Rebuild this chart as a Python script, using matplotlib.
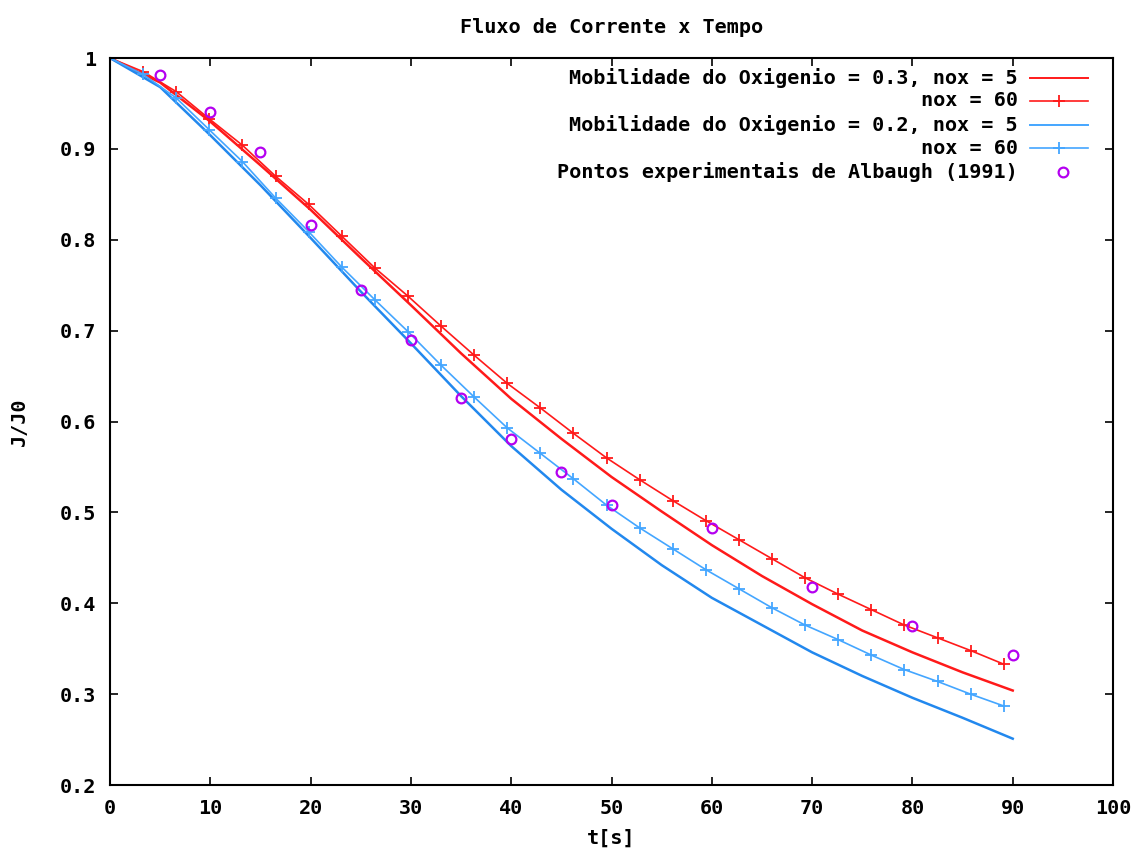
import numpy as np
import matplotlib
matplotlib.use("Agg")
import matplotlib.pyplot as plt

# Fluxo de corrente x tempo : curvas simuladas + pontos de Albaugh (1991)

# curvas sem marcadores (nox = 5)
t_solid = [0, 5, 10, 15, 20, 25, 30, 35, 40, 45, 50, 55, 60, 65, 70, 75, 80, 85, 90]
mob03_nox5 = [1.0, 0.973, 0.930, 0.882, 0.833, 0.780, 0.728, 0.675, 0.625, 0.581,
              0.539, 0.501, 0.464, 0.430, 0.399, 0.370, 0.346, 0.324, 0.304]
mob02_nox5 = [1.0, 0.968, 0.915, 0.860, 0.802, 0.743, 0.686, 0.628, 0.573, 0.525,
              0.482, 0.442, 0.406, 0.376, 0.346, 0.320, 0.296, 0.274, 0.251]

# curvas com marcadores (nox = 60)
t_marks = [0, 3.3, 6.6, 9.9, 13.2, 16.5, 19.8, 23.1, 26.4, 29.7, 33.0, 36.3, 39.6, 42.9,
           46.2, 49.5, 52.8, 56.1, 59.4, 62.7, 66.0, 69.3, 72.6, 75.9, 79.2, 82.5, 85.8, 89.1]
mob03_nox60 = [1.0, 0.985, 0.963, 0.933, 0.904, 0.870, 0.839, 0.804, 0.769, 0.738, 0.705,
               0.673, 0.642, 0.615, 0.587, 0.560, 0.536, 0.513, 0.491, 0.470, 0.449, 0.428,
               0.410, 0.393, 0.376, 0.362, 0.348, 0.333]
mob02_nox60 = [1.0, 0.982, 0.956, 0.921, 0.886, 0.846, 0.809, 0.770, 0.734, 0.699, 0.662,
               0.627, 0.593, 0.565, 0.537, 0.508, 0.483, 0.460, 0.437, 0.416, 0.395, 0.376,
               0.360, 0.343, 0.327, 0.314, 0.300, 0.287]

# pontos experimentais
t_exp = [5, 10, 15, 20, 25, 30, 35, 40, 45, 50, 60, 70, 80, 90]
j_exp = [0.981, 0.941, 0.897, 0.816, 0.745, 0.690, 0.626, 0.581, 0.545, 0.508,
         0.483, 0.418, 0.375, 0.343]

legend_labels = ["Mobilidade do Oxigenio = 0.3, nox = 5", "nox = 60",
                 "Mobilidade do Oxigenio = 0.2, nox = 5", "nox = 60",
                 "Pontos experimentais de Albaugh (1991)"]

RED = "#ff1a1a"
BLUE = "#2288ee"
BLUE2 = "#44a6ff"
PURPLE = "#b400f0"

plt.rcParams["font.family"] = ["DejaVu Sans Mono"]
plt.rcParams["font.weight"] = "bold"
FS = 14.5

fig = plt.figure(figsize=(11.39, 8.52), dpi=100)
ax = fig.add_axes([0.0966, 0.0786, 0.8806, 0.8533])

ax.plot(t_solid, mob03_nox5, color=RED, lw=1.8)
ax.plot(t_marks, mob03_nox60, color=RED, lw=1.2, marker="+", ms=8.5, mew=1.3)
ax.plot(t_solid, mob02_nox5, color=BLUE, lw=1.8)
ax.plot(t_marks, mob02_nox60, color=BLUE2, lw=1.2, marker="+", ms=8.5, mew=1.3)
ax.plot(t_exp, j_exp, ls="none", marker="o", ms=7, mfc="none", mec=PURPLE, mew=1.6)

ax.set_xlim(0, 100)
ax.set_ylim(0.2, 1.0)
ax.set_xticks(np.arange(0, 101, 10))
ax.set_yticks([0.2, 0.3, 0.4, 0.5, 0.6, 0.7, 0.8, 0.9, 1.0])
ax.set_yticklabels(["0.2", "0.3", "0.4", "0.5", "0.6", "0.7", "0.8", "0.9", "1"])
ax.tick_params(direction="in", length=6, width=1.2, top=True, right=True,
               labelsize=FS, pad=10)
for s in ax.spines.values():
    s.set_linewidth(1.5)

ax.set_title("Fluxo de Corrente x Tempo", fontsize=FS, fontweight="bold", pad=18)
ax.set_xlabel("t[s]", fontsize=FS, fontweight="bold", labelpad=8)
ax.set_ylabel("J/J0", fontsize=FS, fontweight="bold", labelpad=22)

# legenda no estilo gnuplot: texto alinhado a direita, amostra a direita
rows_y = [0.9725, 0.941, 0.908, 0.876, 0.843]
styles = [dict(color=RED, lw=1.4), dict(color=RED, lw=1.2, marker="+"),
          dict(color=BLUE2, lw=1.4), dict(color=BLUE2, lw=1.2, marker="+"), None]
for y, lab, st in zip(rows_y, legend_labels, styles):
    ax.text(0.905, y, lab, transform=ax.transAxes, ha="right", va="center", fontsize=FS)
    if st is None:
        ax.plot([0.95], [y], transform=ax.transAxes, ls="none", marker="o", ms=7,
                mfc="none", mec=PURPLE, mew=1.6, clip_on=False)
    else:
        mk = st.pop("marker", None)
        ax.plot([0.917, 0.975], [y, y], transform=ax.transAxes, clip_on=False, **st)
        if mk:
            ax.plot([0.946], [y], transform=ax.transAxes, ls="none", marker=mk,
                    ms=8.5, mew=1.3, color=st["color"], clip_on=False)

fig.savefig("out.png", dpi=100)
